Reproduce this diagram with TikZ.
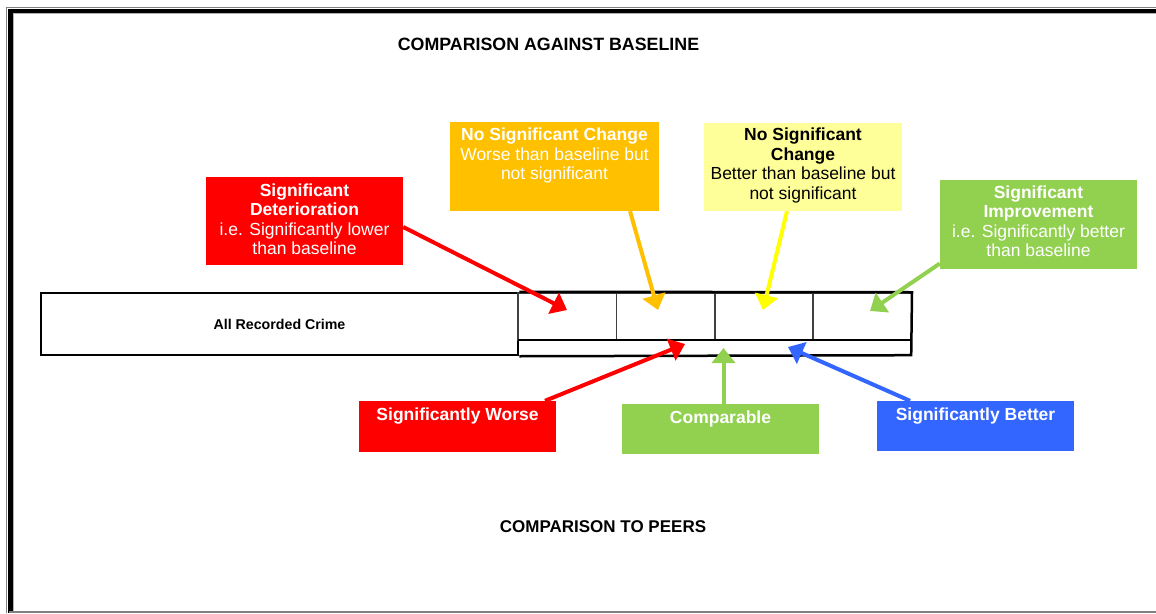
\documentclass[tikz,border=0pt]{standalone}
\usepackage{fontspec}
\setmainfont{Liberation Sans}
\usetikzlibrary{arrows.meta,calc}
\definecolor{cred}{HTML}{FF0000}
\definecolor{corange}{HTML}{FFC000}
\definecolor{cyellowfill}{HTML}{FFFF99}
\definecolor{cyellow}{HTML}{FFFF00}
\definecolor{cgreen}{HTML}{92D050}
\definecolor{cblue}{HTML}{3366FF}
\begin{document}
\begin{tikzpicture}[x=1pt,y=-1pt,
  colbox/.style={rectangle, inner sep=0pt, draw=none},
  boxtxt/.style={inner sep=0pt, align=center, anchor=north, font=\fontsize{17.5}{19.5}\selectfont},
  headtxt/.style={inner sep=0pt, font=\fontsize{17}{20}\selectfont\bfseries},
  cell/.style={rectangle, inner sep=0pt, draw=black!75, line width=1.5pt, minimum height=47pt, minimum width=98.5pt},
  conn/.style={line width=4pt, -{Triangle[length=15pt,width=23pt]}}]
\useasboundingbox (0,0) rectangle (1156,613);
\fill[white] (0,0) rectangle (1156,613);
% frame
\draw[gray, line width=1.5pt] (6.5,613) -- (6.5,7.5) -- (1156,7.5);
\draw[black, line width=4.5pt] (10.5,613) -- (10.5,11) -- (1156,11);
\draw[gray!60, line width=1pt] (13.2,613) -- (13.2,13.7) -- (1156,13.7);
\draw[gray, line width=1.5pt] (9,612) -- (1156,612);

% titles
\node[headtxt, font=\fontsize{17.8}{20}\selectfont\bfseries] (t1) at (548.5,44) {COMPARISON AGAINST BASELINE};
\node[headtxt] (t2) at (603,527) {COMPARISON TO PEERS};

% table
\node[rectangle, draw=black, line width=2.5pt, minimum width=477pt, minimum height=62pt, inner sep=0pt,
      font=\fontsize{14.2}{17}\selectfont\bfseries] (crime) at (279.5,324) {All Recorded Crime};
\node[cell] (c1) at (567,316.5) {};
\node[cell] (c2) at (665.5,316.5) {};
\node[cell] (c3) at (764,316.5) {};
\node[cell] (c4) at (862,316.5) {};
\node[rectangle, inner sep=0pt, minimum width=393pt, minimum height=15pt] (peer) at (714.5,347.5) {};
\draw[black, line width=2.5pt] (crime.north east) -- (c4.north east) -- (peer.south east) -- (crime.south east);
\draw[black, line width=2.5pt] (peer.north west) -- (peer.north east);

% top boxes
\node[colbox, fill=cred, minimum width=197pt, minimum height=88pt] (det) at (304.5,221) {};
\node[boxtxt, text=white] (dett) at (304.5,183.5) {\textbf{Significant}\\\textbf{Deterioration}\\i.e. Significantly lower\\than baseline};

\node[colbox, fill=corange, minimum width=209pt, minimum height=89pt] (nsw) at (554.5,166.5) {};
\node[boxtxt, text=white] (nswt) at (554.5,128) {\textbf{No Significant Change}\\Worse than baseline but\\not significant};

\node[colbox, fill=cyellowfill, minimum width=198pt, minimum height=88pt] (nsb) at (803,167) {};
\node[boxtxt, text=black] (nsbt) at (803,128) {\textbf{No Significant}\\\textbf{Change}\\Better than baseline but\\not significant};

\node[colbox, fill=cgreen, minimum width=197pt, minimum height=89pt] (imp) at (1038.5,224.5) {};
\node[boxtxt, text=white] (impt) at (1038.5,185.5) {\textbf{Significant}\\\textbf{Improvement}\\i.e. Significantly better\\than baseline};

% bottom boxes
\node[colbox, fill=cred, minimum width=197pt, minimum height=51pt] (worse) at (457.5,426.5) {};
\node[boxtxt, text=white] (worset) at (457.5,407.5) {\textbf{Significantly Worse}};

\node[colbox, fill=cgreen, minimum width=197pt, minimum height=50pt] (comp) at (720.5,429) {};
\node[boxtxt, text=white] (compt) at (720.5,410.5) {\textbf{Comparable}};

\node[colbox, fill=cblue, minimum width=197pt, minimum height=50pt] (better) at (975.5,426) {};
\node[boxtxt, text=white] (bettert) at (975.5,407.5) {\textbf{Significantly Better}};

% arrow tips
\coordinate (tdet) at (567,310);
\coordinate (tnsw) at (658,310);
\coordinate (tnsb) at (763,310);
\coordinate (timp) at (870,311);
\coordinate (tworse) at (685,344);
\coordinate (tcomp) at (723.5,348);
\coordinate (tbetter) at (788,347);

% connectors
\draw[conn, cred] ($(det.east)+(0,6)$) -- (tdet);
\draw[conn, corange] ($(nsw.south)+(75.5,0)$) -- (tnsw);
\draw[conn, cyellow] ($(nsb.south)+(-16,0)$) -- (tnsb);
\draw[conn, cgreen] ($(imp.west)+(0,39)$) -- (timp);
\draw[conn, cred] ($(worse.north)+(87.5,0)$) -- (tworse);
\draw[conn, cgreen] ($(comp.north)+(3,0)$) -- (tcomp);
\draw[conn, cblue] ($(better.north)+(-65.5,0)$) -- (tbetter);
\end{tikzpicture}
\end{document}
